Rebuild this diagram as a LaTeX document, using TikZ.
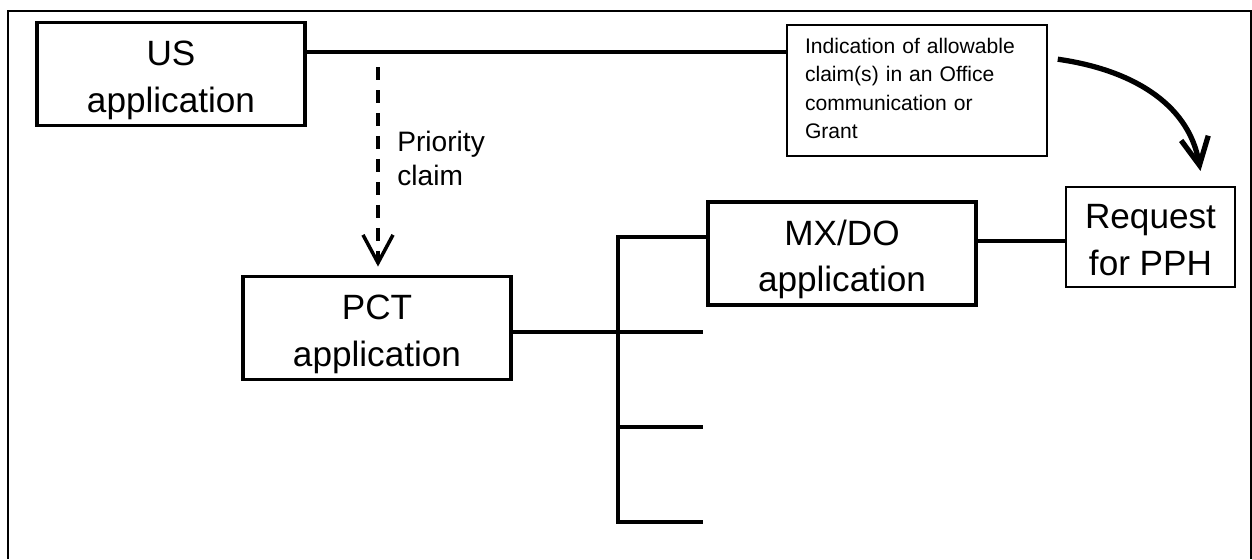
\documentclass[tikz,border=0pt]{standalone}
\usepackage{fontspec}
\setmainfont{Liberation Sans}
\usetikzlibrary{arrows.meta}

\tikzset{
  appbox/.style={draw, line width=2.2pt, minimum width=5.36cm, minimum height=2.06cm,
    inner sep=0pt, align=center, font=\fontsize{20}{26.5}\selectfont,
    text height=43.5pt, text depth=0pt},
  reqbox/.style={appbox, line width=1.2pt, minimum width=3.38cm, minimum height=2cm},
  notebox/.style={draw, line width=0.9pt, minimum width=5.2cm, minimum height=2.62cm,
    text width=4.48cm, inner xsep=0.36cm, inner ysep=0pt, align=left,
    font=\fontsize{12}{16.2}\selectfont, text height=8pt, text depth=50.2pt},
  link/.style={line width=2.2pt},
  prio arrow/.style={line width=2pt, dash pattern=on 0.26cm off 0.2cm,
    -{Straight Barb[length=0.56cm,width=0.6cm]}, shorten >=0.16cm},
  bend arrow/.style={line width=3pt, -{Straight Barb[length=0.55cm,width=0.55cm]}}
}

\begin{document}
\begin{tikzpicture}[x=0.02cm, y=-0.02cm]
  \useasboundingbox (0,0) rectangle (1252,559);
  % frame
  \draw[line width=1.4pt] (8,559) -- (8,11) -- (1251,11) -- (1251,559);

  % -- US application
  \node[appbox] (us) at (171,74) {US\\application};
  % indication of allowable claims
  \node[notebox] (indication) at (917,90.5)
    {Indication of allowable\\claim(s) in an Office\\communication or\\Grant};
  \draw[link] (us.east |- 0,52) -- (indication.west |- 0,52);

  % -- PCT application, priority claim
  \node[appbox] (pct) at (377,328) {PCT\\application};
  \coordinate (priostart) at (378,67);
  \draw[prio arrow] (priostart) -- (priostart |- pct.north);
  \node[anchor=north west, inner sep=0pt, align=left, text height=30.3pt,
    font=\fontsize{16}{19.3}\selectfont] (prioclaim) at (397,132) {Priority\\claim};

  % national phase entries
  \node[appbox] (mxdo) at (842,253.5) {MX/DO\\application};
  \coordinate (bustop) at (618,237);
  \coordinate (br1) at (703,332);
  \coordinate (br2) at (703,427);
  \coordinate (br3) at (703,522);
  \draw[link] (pct.east |- br1) -- (br1);
  \draw[link] (mxdo.west |- bustop) -- (bustop) -- (bustop |- br3) -- (br3);
  \draw[link] (bustop |- br2) -- (br2);

  % -- Request for PPH
  \node[reqbox] (request) at (1150.5,237) {Request\\for PPH};
  \draw[link] (mxdo.east |- 0,241) -- (request.west |- 0,241);
  % trajet
  \draw[bend arrow] ([xshift=0.2cm,yshift=-0.7cm]indication.north east)
    to[out=-8,in=100] ([xshift=1cm,yshift=0.3cm]request.north);
\end{tikzpicture}
\end{document}
